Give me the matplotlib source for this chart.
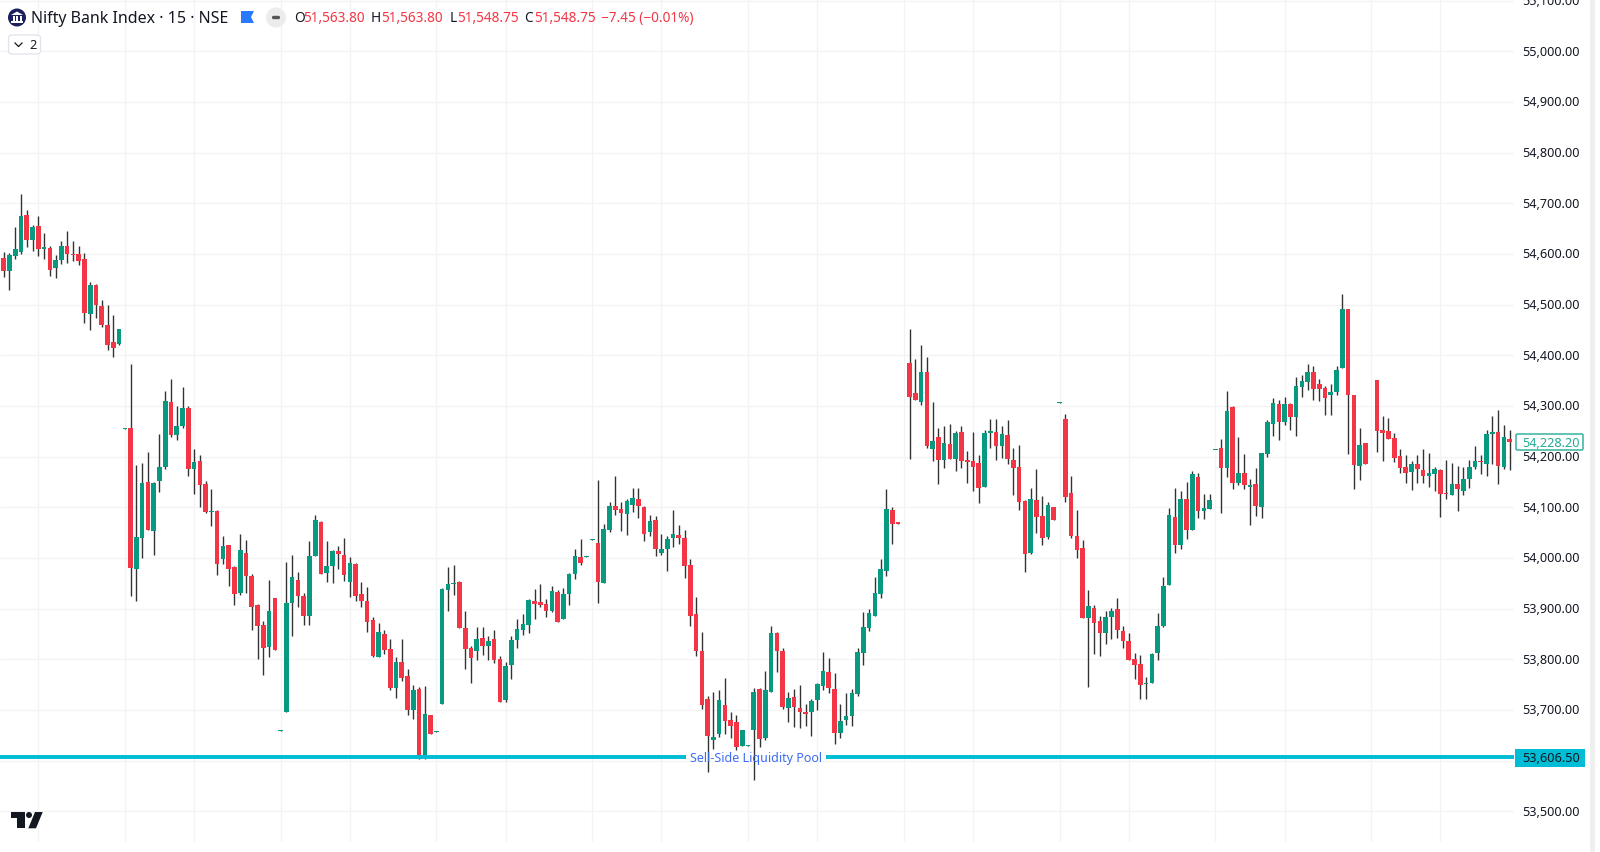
import numpy as np
import matplotlib
matplotlib.use('Agg')
import matplotlib.pyplot as plt
from matplotlib.patches import Circle, Polygon, Rectangle, FancyBboxPatch

plt.rcParams['font.family'] = ['Noto Sans', 'DejaVu Sans']

# 15 minute candles, first one sits half off the left edge
opens = [54595,54593,54567,54596,54604,54677,54628,54656,54610,54612,
54573,54589,54615,54600,54600,54590,54482,54539,54497,54460,
54427,54422,54254,54256,53979,54040,54150,54054,54151,54179,
54308,54243,54261,54296,54175,54191,54145,54091,54093,53998,
54025,53982,53931,54010,53964,53908,53868,53825,53920,53658,
53695,53912,53957,53924,53886,54004,54071,53970,53985,54014,
54006,53952,53989,53928,53915,53877,53805,53849,53820,53744,
53794,53768,53699,53741,53606,53691,53657,53711,53937,53948,
53952,53861,53822,53816,53842,53826,53840,53800,53720,53788,
53839,53858,53868,53915,53913,53910,53896,53933,53879,53929,
53969,54001,54002,54036,54030,53951,54055,54102,54097,54087,
54105,54117,54101,54052,54075,54010,54018,54039,54045,54039,
53987,53889,53817,53721,53641,53653,53709,53680,53676,53629,
53629,53660,53741,53645,53736,53851,53817,53703,53726,53704,
53696,53695,53720,53747,53775,53741,53655,53680,53689,53731,
53813,53862,53886,53929,53974,54094,54071,54378,54385,54326,
54308,54367,54216,54238,54193,54225,54195,54248,54193,54191,
54187,54140,54247,54248,54221,54243,54193,54180,54113,54010,
54115,54082,54041,54101,54306,54274,54128,54043,54020,53881,
53901,53875,53851,53883,53899,53856,53836,53801,53791,53751,
53754,53813,53865,53947,54081,54025,54116,54056,54159,54093,
54097,54213,54217,54178,54297,54147,54168,54141,54146,54101,
54206,54264,54303,54268,54303,54278,54337,54347,54367,54343,
54335,54322,54327,54374,54491,54321,54182,54227,54329,54351,
54252,54251,54237,54201,54180,54170,54185,54173,54161,54166,
54173,54128,54124,54145,54132,54156,54179,54191,54185,54244,
54249,54179,54235]

highs = [54595,54603,54602,54654,54718,54687,54657,54675,54641,54615,
54598,54625,54645,54625,54616,54601,54545,54540,54509,54499,
54479,54452,54256,54383,54183,54187,54210,54150,54245,54329,
54353,54299,54337,54300,54215,54204,54151,54136,54094,54043,
54025,53985,54047,54036,53969,53910,53875,53956,53921,53660,
53993,54006,53973,53931,54033,54085,54073,54033,54015,54024,
54039,54001,53991,53952,53942,53883,53871,53857,53841,53804,
53840,53781,53749,53745,53747,53691,53659,53940,53982,53987,
53954,53896,53827,53864,53864,53845,53857,53806,53794,53846,
53879,53889,53919,53939,53949,53919,53944,53937,53940,53970,
54018,54037,54003,54037,54154,54068,54110,54161,54110,54116,
54138,54139,54103,54084,54082,54047,54044,54094,54065,54055,
53998,53922,53854,53727,53735,53739,53764,53695,53691,53660,
53630,53744,53743,53776,53866,53854,53822,53735,53742,53750,
53712,53721,53754,53814,53803,53772,53712,53733,53741,53822,
53893,53899,53963,53998,54136,54101,54071,54379,54452,54392,
54420,54396,54307,54257,54260,54264,54250,54260,54211,54248,
54203,54252,54274,54274,54260,54272,54218,54222,54115,54139,
54175,54122,54111,54101,54307,54285,54162,54094,54036,53937,
53907,53886,53896,53901,53920,53866,53852,53812,53808,53766,
53812,53891,53962,54098,54139,54133,54150,54172,54168,54127,
54126,54214,54235,54329,54300,54239,54206,54156,54178,54208,
54272,54315,54312,54317,54306,54358,54362,54383,54378,54353,
54339,54343,54378,54520,54491,54322,54256,54227,54330,54351,
54281,54276,54246,54216,54204,54191,54203,54216,54208,54179,
54176,54194,54187,54181,54180,54193,54220,54204,54253,54281,
54292,54262,54252]

lows = [54591,54555,54529,54590,54600,54613,54606,54595,54590,54557,
54552,54580,54583,54586,54579,54464,54450,54473,54455,54410,
54397,54421,54254,53925,53916,54000,54056,54005,54131,54175,
54238,54233,54257,54162,54126,54100,54089,54063,53967,53989,
53945,53908,53926,53931,53858,53800,53769,53805,53818,53658,
53695,53846,53904,53868,53868,54003,53969,53952,53950,53978,
53954,53923,53916,53904,53854,53805,53804,53810,53739,53723,
53758,53690,53683,53604,53604,53653,53657,53711,53896,53926,
53862,53781,53754,53798,53809,53798,53793,53716,53716,53761,
53823,53847,53851,53879,53904,53884,53893,53874,53879,53907,
53959,53986,54002,54036,53912,53951,54052,54085,54053,54045,
54091,54078,54033,54043,54003,54006,53975,54022,54027,53961,
53866,53807,53702,53578,53623,53646,53653,53645,53620,53629,
53629,53562,53626,53641,53736,53774,53701,53676,53667,53665,
53668,53648,53700,53740,53734,53633,53645,53670,53668,53728,
53789,53856,53886,53921,53965,54028,54068,54378,54196,54312,
54301,54218,54191,54145,54178,54195,54172,54177,54147,54133,
54109,54140,54217,54194,54197,54185,54124,54095,53972,54008,
54049,54025,54037,54074,54306,54110,54040,54000,53881,53746,
53810,53807,53830,53840,53842,53823,53799,53761,53722,53722,
53754,53799,53863,53946,54010,54018,54037,54056,54078,54077,
54097,54213,54089,54160,54136,54144,54136,54066,54083,54078,
54200,54241,54233,54262,54253,54240,54317,54331,54312,54310,
54283,54282,54322,54374,54205,54137,54154,54185,54329,54210,
54191,54235,54189,54168,54147,54134,54147,54147,54141,54132,
54080,54117,54124,54093,54124,54139,54176,54166,54162,54186,
54145,54176,54174]

closes = [54591,54567,54597,54609,54675,54628,54654,54610,54614,54569,
54588,54615,54599,54598,54587,54484,54539,54500,54459,54421,
54415,54451,54256,53981,54041,54147,54056,54147,54179,54309,
54243,54261,54296,54176,54189,54144,54091,54093,53988,54024,
53979,53928,54015,53965,53904,53865,53823,53895,53818,53660,
53912,53962,53924,53886,54003,54075,53969,53985,54014,54008,
53967,53990,53924,53916,53874,53806,53854,53818,53744,53795,
53763,53699,53740,53606,53693,53653,53659,53939,53948,53950,
53862,53821,53802,53840,53826,53837,53799,53716,53787,53838,
53859,53870,53917,53909,53907,53895,53935,53874,53929,53968,
54003,53991,54003,54037,53952,54057,54102,54095,54089,54112,
54118,54103,54048,54073,54018,54017,54037,54047,54040,53984,
53885,53816,53710,53649,53646,53720,53678,53669,53626,53660,
53630,53735,53643,53739,53852,53817,53706,53724,53705,53695,
53692,53718,53751,53777,53743,53655,53679,53689,53734,53814,
53863,53891,53931,53978,54096,54067,54068,54379,54317,54312,
54367,54221,54231,54193,54227,54195,54247,54191,54190,54180,
54138,54247,54250,54221,54245,54196,54177,54111,54008,54116,
54081,54040,54105,54074,54307,54121,54043,54016,53881,53905,
53871,53851,53883,53896,53857,53837,53799,53788,53750,53754,
53810,53866,53945,54085,54026,54116,54056,54166,54093,54099,
54114,54214,54177,54290,54147,54168,54144,54144,54102,54208,
54268,54306,54268,54304,54278,54339,54349,54367,54334,54334,
54315,54328,54371,54491,54322,54184,54222,54185,54330,54251,
54247,54235,54197,54178,54168,54185,54176,54162,54168,54175,
54126,54126,54146,54136,54156,54180,54192,54189,54245,54249,
54182,54238,54228]

# bars where the time axis has its (hidden) grid lines
grid_bars = [6, 21, 33, 48, 60, 75, 87, 102, 114, 129, 141, 156, 168, 183, 195, 210, 222, 237, 249]
price_ticks = list(range(53500, 55200, 100))

liquidity_level = 53606.5
last_price = 54228.20
gap_bars = [118.2, 142.5]   # the line breaks round its label

UP = '#089981'
DOWN = '#F23645'
WICK = '#333333'
LINE = '#00BCD4'
W, H = 1600, 853

o = np.array(opens)
h = np.array(highs)
l = np.array(lows)
c = np.array(closes)
idx = np.arange(-1, len(o) - 1)
colors = np.where(c >= o, UP, DOWN)

fig = plt.figure(figsize=(W / 100, H / 100), dpi=100, facecolor='white')

# chart pane: 0..1514 px wide, 0..843 px tall
ax = fig.add_axes([0, (H - 843) / H, 1514 / W, 843 / H])
ax.set_xlim(-0.636, 261.76)
ax.set_ylim(53439.4, 55103.2)
for s in ax.spines.values():
    s.set_visible(False)
ax.set_xticks([])
ax.set_yticks([])

ax.hlines(price_ticks, -0.636, 261.76, color='#f3f3f4', lw=0.9, zorder=1)
ax.vlines(grid_bars, 53439.4, 55103.2, color='#f3f3f4', lw=0.9, zorder=1)

ax.vlines(idx, l, h, color=WICK, lw=1.0, zorder=2)
ax.bar(idx, np.maximum(np.abs(c - o), 1.5), bottom=np.minimum(o, c), width=0.8,
       color=colors, linewidth=0, zorder=3)

ax.hlines(liquidity_level, -0.636, gap_bars[0], color=LINE, lw=2.8, zorder=4)
ax.hlines(liquidity_level, gap_bars[1], 261.76, color=LINE, lw=2.8, zorder=4)

# everything else is placed in plain screen pixels
ui = fig.add_axes([0, 0, 1, 1], facecolor='none')
ui.set_xlim(0, W)
ui.set_ylim(H, 0)
ui.axis('off')


def price_y(p):
    return 812.3 - (p - 53500) * 0.5067


ui.add_patch(Rectangle((0, 0), W, 1.3, color='#ececec', lw=0))
ui.add_patch(Rectangle((1590, 0), 5, H, color='#efefef', lw=0))

for p in price_ticks:
    if p == 53600:   # sits under the line's own label
        continue
    ui.text(1580, price_y(p), f'{p:,.2f}', ha='right', va='center', fontsize=9.1, color='#131722')

ui.text(756, price_y(liquidity_level), 'Sell-Side Liquidity Pool', ha='center', va='center',
        fontsize=9.0, color='#3d6cf5', zorder=6)

# price labels on the scale
ui.add_patch(Rectangle((1515, 750), 70, 18, facecolor=LINE, edgecolor='none', zorder=5))
ui.text(1580, price_y(liquidity_level), f'{liquidity_level:,.2f}', ha='right', va='center',
        fontsize=9.1, color='#131722', zorder=6)
ui.add_patch(FancyBboxPatch((1516, 435), 67, 16, boxstyle='round,pad=0,rounding_size=1.5',
                            facecolor='white', edgecolor='#22ab94', lw=1, zorder=5))
ui.text(1580, price_y(last_price) + 0.5, f'{last_price:,.2f}', ha='right', va='center',
        fontsize=9.1, color='#22ab94', zorder=6)

# legend row
ui.add_patch(Circle((17, 18.5), 9, color='#1c1f5e', lw=0))
ui.add_patch(Polygon([(11, 16), (17, 12.5), (23, 16)], color='white', lw=0))
for bx in (12.5, 16, 19.5):
    ui.add_patch(Rectangle((bx, 16.5), 2, 5, color='white', lw=0))
ui.add_patch(Rectangle((11, 22), 12, 1.5, color='white', lw=0))
ui.text(31, 18.5, 'Nifty Bank Index · 15 · NSE', ha='left', va='center', fontsize=11.5, color='#131722')
ui.add_patch(Polygon([(241, 12), (254, 12), (251, 18), (254, 24), (241, 24)], color='#2979ff', lw=0))
ui.add_patch(Circle((276, 18.5), 10, color='#ececec', lw=0))
ui.add_patch(FancyBboxPatch((272, 16.8), 8, 3.4, boxstyle='round,pad=0,rounding_size=1.5', color='#555555', lw=0))

red = '#F23645'
dark = '#131722'
for label, lx, value, vx in [('O', 294, '51,563.80', 303.5), ('H', 371, '51,563.80', 381.5),
                             ('L', 449.5, '51,548.75', 457.5), ('C', 524.5, '51,548.75', 534)]:
    ui.text(lx, 18.5, label, ha='left', va='center', fontsize=9.8, color=dark)
    ui.text(vx, 18.5, value, ha='left', va='center', fontsize=9.8, color=red)
ui.text(601, 18.5, '−7.45 (−0.01%)', ha='left', va='center', fontsize=9.8, color=red)

ui.add_patch(FancyBboxPatch((8.5, 36), 32, 19, boxstyle='round,pad=0,rounding_size=3',
                            facecolor='white', edgecolor='#e0e3eb', lw=0.9))
ui.plot([15, 18.5, 22], [44, 47.5, 44], color=dark, lw=0.9)
ui.text(29, 45.5, '2', ha='left', va='center', fontsize=9.1, color=dark)

# TradingView mark
ui.add_patch(Polygon([(10.7, 813), (25, 813), (25, 829.3), (17.3, 829.3), (17.3, 819.3), (10.7, 819.3)],
                     color='#131722', lw=0))
ui.add_patch(Circle((29, 816), 3, color='#131722', lw=0))
ui.add_patch(Polygon([(35, 813), (42.7, 813), (36, 829.3), (28.3, 829.3)], color='#131722', lw=0))

fig.savefig('out.png', dpi=100)
